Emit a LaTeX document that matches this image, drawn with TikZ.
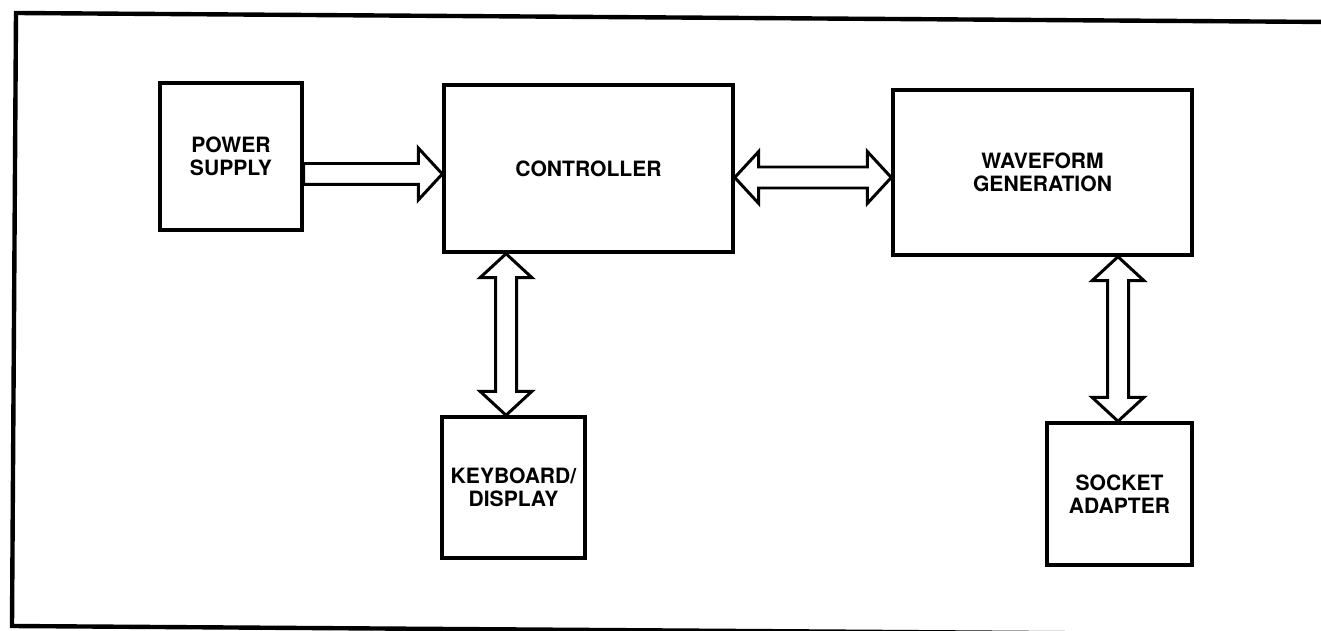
\documentclass[tikz,border=0pt]{standalone}
\usepackage{fontspec}
\setmainfont{TeX Gyre Heros}
\usetikzlibrary{calc}

\tikzset{
  block/.style={draw, line width=2pt, align=center, font=\bfseries\fontsize{12}{13}\selectfont},
  fat/.style={draw, line width=1.7pt, line join=miter, fill=white},
  frame/.style={line width=2.5pt}
}

\begin{document}
\begin{tikzpicture}[x=0.02cm, y=-0.02cm]
  \useasboundingbox (0,0) rectangle (1321,631);

  % Outer frame (open on the right)
  \draw[frame] (1330,22) -- (16,13) -- (12,626) -- (1330,635);

  % Blocks
  \node[block, minimum width=2.84cm, minimum height=2.94cm] (ps) at (231,156.5) {POWER\\SUPPLY};
  \node[block, minimum width=5.78cm, minimum height=3.34cm] (ctrl) at (588.5,168.5) {CONTROLLER};
  \node[block, minimum width=5.98cm, minimum height=3.30cm] (wave) at (1042.5,172.5) {WAVEFORM\\GENERATION};
  \node[block, minimum width=2.86cm, minimum height=2.82cm] (kb) at (513.5,487.5) {KEYBOARD/\\DISPLAY};
  \node[block, minimum width=2.90cm, minimum height=2.84cm] (sa) at (1119.5,494) {SOCKET\\ADAPTER};

  % Hollow arrow sizes: shaft half width, head half width, head length
  \def\sw{0.21cm}
  \def\hw{0.52cm}
  \def\hl{0.48cm}

  % #1: left end, #2: right end (head)
  \newcommand{\harrow}[2]{
    \draw[fat] ([yshift=\sw]#1) -- ([xshift=-\hl,yshift=\sw]#2) -- ([xshift=-\hl,yshift=\hw]#2) -- (#2)
      -- ([xshift=-\hl,yshift=-\hw]#2) -- ([xshift=-\hl,yshift=-\sw]#2) -- ([yshift=-\sw]#1) -- cycle;
  }
  % #1: left end, #2: right end (heads at both)
  \newcommand{\hdarrow}[2]{
    \draw[fat] (#1) -- ([xshift=\hl,yshift=\hw]#1) -- ([xshift=\hl,yshift=\sw]#1)
      -- ([xshift=-\hl,yshift=\sw]#2) -- ([xshift=-\hl,yshift=\hw]#2) -- (#2)
      -- ([xshift=-\hl,yshift=-\hw]#2) -- ([xshift=-\hl,yshift=-\sw]#2)
      -- ([xshift=\hl,yshift=-\sw]#1) -- ([xshift=\hl,yshift=-\hw]#1) -- cycle;
  }
  % #1: top end, #2: bottom end (heads at both)
  \newcommand{\vdarrow}[2]{
    \draw[fat] (#1) -- ([xshift=\hw,yshift=-\hl]#1) -- ([xshift=\sw,yshift=-\hl]#1)
      -- ([xshift=\sw,yshift=\hl]#2) -- ([xshift=\hw,yshift=\hl]#2) -- (#2)
      -- ([xshift=-\hw,yshift=\hl]#2) -- ([xshift=-\sw,yshift=\hl]#2)
      -- ([xshift=-\sw,yshift=-\hl]#1) -- ([xshift=-\hw,yshift=-\hl]#1) -- cycle;
  }

  % Connector end points
  \coordinate (p1) at ([yshift=-0.35cm]ps.east);
  \coordinate (p2) at (ctrl.west |- p1);
  \coordinate (c1) at ([yshift=-0.18cm]ctrl.east);
  \coordinate (w1) at (wave.west |- c1);
  \coordinate (c2) at ([xshift=-1.65cm]ctrl.south);
  \coordinate (k1) at (c2 |- kb.north);
  \coordinate (s1) at ([xshift=-0.03cm]sa.north);
  \coordinate (w2) at (s1 |- wave.south);

  % Connectors
  \harrow{p1}{p2}
  \hdarrow{c1}{w1}
  \vdarrow{c2}{k1}
  \vdarrow{w2}{s1}

\end{tikzpicture}
\end{document}
